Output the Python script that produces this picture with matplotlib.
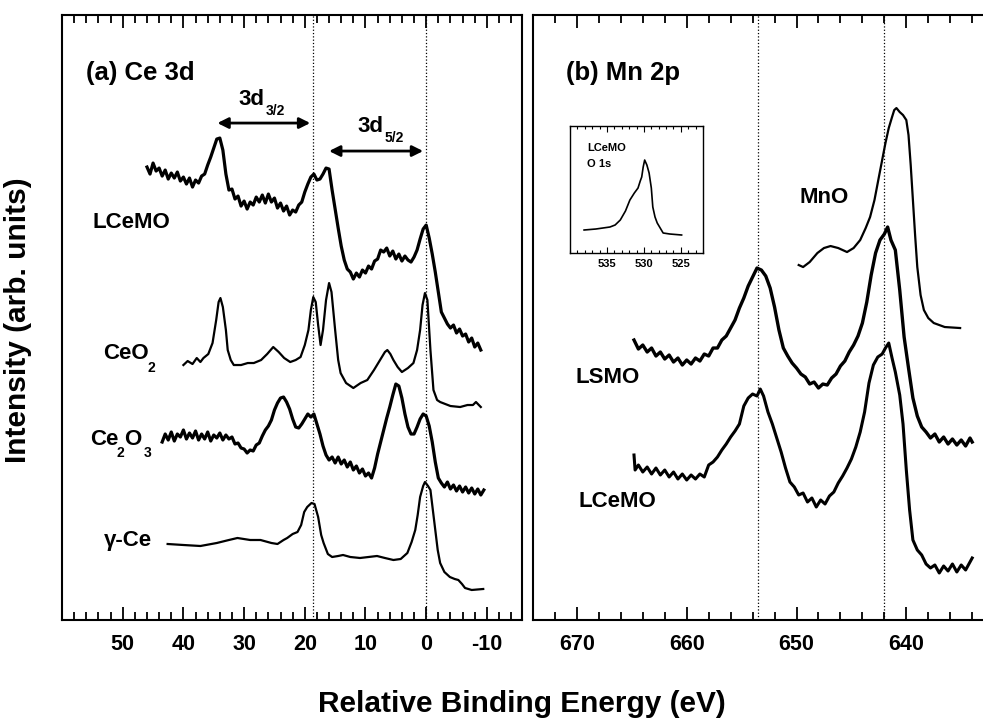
import matplotlib.pyplot as plt
from matplotlib.ticker import MultipleLocator, FixedLocator

plt.rcParams['font.family'] = ['Liberation Sans', 'DejaVu Sans']
plt.rcParams['font.weight'] = 'bold'
plt.rcParams['axes.unicode_minus'] = False

# ---- panel (a) Ce 3d : relative binding energy (eV) / intensity (arb. units)
lcemo_ce_e = [46.0, 45.5, 45.0, 44.5, 44.0, 43.5, 43.0, 42.5, 42.0, 41.5, 41.0, 40.5, 40.0, 39.5,
              39.0, 38.5, 38.0, 37.5, 37.0, 36.5, 36.0, 35.5, 35.0, 34.5, 34.0, 33.5, 33.0, 32.5,
              32.0, 31.5, 31.0, 30.5, 30.0, 29.5, 29.0, 28.5, 28.0, 27.5, 27.0, 26.5, 26.0, 25.5,
              25.0, 24.5, 24.0, 23.5, 23.0, 22.5, 22.0, 21.5, 21.0, 20.5, 20.0, 19.5, 19.0, 18.5,
              18.0, 17.5, 17.0, 16.5, 16.0, 15.5, 15.0, 14.5, 14.0, 13.5, 13.0, 12.5, 12.0, 11.5,
              11.0, 10.5, 10.0, 9.5, 9.0, 8.5, 8.0, 7.5, 7.0, 6.5, 6.0, 5.5, 5.0, 4.5, 4.0, 3.5,
              3.0, 2.5, 2.0, 1.5, 1.0, 0.5, 0.0, -0.5, -1.0, -1.5, -2.0, -2.5, -3.0, -3.5, -4.0,
              -4.5, -5.0, -5.5, -6.0, -6.5, -7.0, -7.5, -8.0, -8.5, -9.0]
lcemo_ce_i = [453, 446, 457, 449, 452, 444, 450, 441, 447, 442, 448, 439, 443, 436,
              442, 433, 440, 437, 444, 446, 455, 463, 472, 481, 482, 470, 446, 430,
              431, 421, 424, 414, 419, 411, 418, 415, 423, 418, 425, 417, 426, 418,
              422, 412, 417, 409, 414, 405, 410, 408, 415, 418, 428, 436, 443, 446,
              440, 441, 446, 452, 451, 430, 411, 392, 374, 360, 351, 348, 341, 347,
              343, 350, 347, 354, 351, 359, 361, 370, 368, 372, 364, 369, 361, 366, 359, 364,
              360, 358, 363, 370, 381, 391, 395, 382, 366, 348, 328, 308, 302, 296, 292,
              295, 287, 291, 284, 286, 278, 282, 273, 277, 270]

ceo2_e = [40.0, 39.3, 38.5, 37.8, 37.2, 36.7, 35.9, 35.2, 34.6, 34.2, 33.9, 33.5, 33.0, 32.7,
          32.2, 31.7, 30.5, 29.4, 28.4, 27.2, 26.2, 25.2, 24.3, 23.4, 22.4, 21.5, 20.7, 20.0,
          19.4, 19.0, 18.6, 18.2, 17.8, 17.4, 17.0, 16.5, 16.0, 15.6, 15.0, 14.5, 14.1, 13.2,
          12.0, 10.8, 9.7, 8.6, 7.6, 6.8, 6.4, 5.9, 5.4, 4.7, 4.0, 3.0, 2.1, 1.5, 1.0, 0.6,
          0.2, -0.2, -0.7, -1.2, -1.8, -2.3, -4.0, -5.6, -6.8, -7.7, -8.2, -9.0]
ceo2_i = [255, 259, 256, 262, 258, 262, 266, 277, 300, 318, 322, 313, 290, 270,
          260, 255, 255, 257, 257, 260, 266, 273, 268, 262, 258, 260, 263, 275,
          290, 310, 323, 318, 295, 275, 290, 320, 337, 328, 290, 260, 247, 237,
          232, 237, 240, 250, 260, 268, 270, 266, 260, 253, 248, 252, 257, 270, 290, 315,
          327, 320, 270, 230, 220, 218, 214, 213, 215, 215, 218, 213]

ce2o3_e = [43.5, 43.0, 42.5, 42.0, 41.5, 41.0, 40.5, 40.0, 39.5, 39.0, 38.5, 38.0, 37.5, 37.0,
           36.5, 36.0, 35.5, 35.0, 34.5, 34.0, 33.5, 33.0, 32.5, 32.0, 31.5, 31.0, 30.5, 30.0,
           29.5, 29.0, 28.5, 28.0, 27.5, 27.0, 26.5, 26.0, 25.5, 25.0, 24.5, 24.0, 23.5, 23.0,
           22.5, 22.0, 21.5, 21.0, 20.5, 20.0, 19.5, 19.0, 18.5, 18.0, 17.5, 17.0, 16.5, 16.0,
           15.5, 15.0, 14.5, 14.0, 13.5, 13.0, 12.5, 12.0, 11.5, 11.0, 10.5, 10.0, 9.5, 9.0,
           8.5, 8.0, 7.5, 7.0, 6.5, 6.0, 5.5, 5.0, 4.5, 4.0, 3.5, 3.0, 2.5, 2.0, 1.5, 1.0,
           0.5, 0.0, -0.5, -1.0, -1.5, -2.0, -2.5, -3.0, -3.5, -4.0, -4.5, -5.0, -5.5, -6.0,
           -6.5, -7.0, -7.5, -8.0, -8.5, -9.0, -9.5]
ce2o3_i = [178, 186, 180, 188, 179, 186, 183, 190, 181, 187, 182, 189, 180, 186,
           181, 188, 179, 185, 182, 187, 180, 185, 181, 183, 176, 177, 172, 171,
           167, 170, 169, 175, 177, 184, 190, 194, 200, 210, 217, 222, 223, 218,
           211, 201, 193, 192, 196, 201, 206, 203, 206, 196, 186, 174, 165, 160,
           163, 157, 163, 156, 160, 153, 158, 150, 154, 147, 151, 144, 147, 142,
           152, 166, 178, 190, 202, 213, 225, 236, 234, 222, 206, 193, 186, 186, 193, 201,
           206, 204, 194, 178, 158, 142, 137, 133, 138, 131, 135, 129, 134, 128,
           133, 127, 132, 126, 131, 125, 130]

gce_e = [42.6, 40.0, 37.2, 34.5, 32.5, 31.1, 29.0, 27.3, 25.5, 24.5, 23.5, 22.9, 22.0, 21.2,
         20.6, 20.1, 19.6, 18.9, 18.4, 17.8, 17.3, 16.9, 16.2, 15.5, 14.5, 13.7, 12.5, 10.9,
         9.5, 8.1, 6.8, 5.4, 4.2, 3.1, 2.4, 1.8, 1.4, 1.0, 0.5, 0.2, -0.3, -0.7, -1.1, -1.5,
         -1.9, -2.3, -3.0, -3.9, -4.7, -5.3, -5.9, -6.4, -7.5, -9.4]
gce_i = [76, 75, 74, 77, 80, 82, 80, 80, 77, 76, 80, 82, 86, 88,
         95, 108, 113, 117, 116, 103, 85, 77, 66, 63, 64, 65, 63, 62,
         63, 64, 62, 60, 61, 67, 78, 90, 105, 123, 134, 138, 134, 130, 110, 90,
         70, 57, 48, 43, 41, 40, 36, 32, 30, 31]

# ---- panel (b) Mn 2p : binding energy (eV) / intensity (arb. units)
mno_e = [649.8, 649.4, 648.8, 648.1, 647.5, 646.9, 646.2, 645.4, 644.8, 644.2, 643.7, 643.3,
         642.9, 642.5, 642.2, 641.9, 641.6, 641.3, 641.1, 640.9, 640.6, 640.3, 640.0, 639.8,
         639.6, 639.4, 639.2, 639.0, 638.7, 638.4, 638.0, 637.5, 636.5, 635.1]
mno_i = [355, 353, 358, 367, 372, 374, 372, 368, 372, 380, 392, 403,
         420, 443, 460, 477, 492, 503, 510, 512, 508, 505, 500, 485,
         455, 420, 385, 353, 325, 310, 302, 297, 293, 292]

lsmo_e = [664.8, 664.4, 664.0, 663.6, 663.2, 662.8, 662.4, 662.0, 661.6, 661.2, 660.8, 660.4,
          660.0, 659.6, 659.2, 658.8, 658.4, 658.0, 657.6, 657.2, 656.8, 656.4, 656.0, 655.6,
          655.2, 654.8, 654.4, 654.0, 653.6, 653.2, 652.8, 652.4, 652.0, 651.6, 651.2, 650.8,
          650.4, 650.0, 649.6, 649.2, 648.8, 648.4, 648.0, 647.6, 647.2, 646.8, 646.4, 646.0,
          645.6, 645.2, 644.8, 644.4, 644.0, 643.6, 643.2, 642.8, 642.4, 642.0, 641.7, 641.4,
          641.0, 640.6, 640.2, 639.8, 639.4, 639.0, 638.6, 638.2, 637.8, 637.4, 637.0, 636.6,
          636.2, 635.8, 635.4, 635.0, 634.6, 634.2, 634.0]
lsmo_i = [280, 271, 275, 268, 272, 264, 268, 261, 265, 258, 262, 255,
          260, 256, 262, 259, 266, 264, 272, 272, 280, 284, 292, 300,
          312, 322, 334, 343, 352, 350, 344, 332, 313, 290, 272, 264,
          257, 252, 246, 243, 236, 238, 232, 236, 235, 242, 246, 254,
          259, 268, 275, 284, 297, 318, 345, 367, 380, 386, 393, 380,
          370, 330, 283, 252, 222, 204, 193, 188, 182, 186, 178, 183,
          176, 181, 175, 180, 174, 182, 178]

lcemo_mn_e = [664.8, 664.7, 664.4, 664.0, 663.6, 663.2, 662.8, 662.4, 662.0, 661.6, 661.2, 660.8,
              660.4, 660.0, 659.6, 659.2, 658.8, 658.4, 658.0, 657.6, 657.2, 656.8, 656.4, 656.0,
              655.6, 655.2, 654.8, 654.4, 654.0, 653.6, 653.3, 653.0, 652.6, 652.2, 651.8, 651.4,
              651.0, 650.6, 650.2, 649.8, 649.4, 649.0, 648.6, 648.2, 647.8, 647.4, 647.0, 646.6,
              646.2, 645.8, 645.4, 645.0, 644.6, 644.2, 643.8, 643.4, 643.0, 642.6, 642.2, 641.9,
              641.6, 641.3, 641.0, 640.6, 640.3, 640.0, 639.7, 639.4, 639.0, 638.6, 638.2, 637.8,
              637.4, 637.0, 636.6, 636.2, 635.8, 635.4, 635.0, 634.6, 634.2, 634.0]
lcemo_mn_i = [165, 150, 155, 148, 153, 146, 152, 145, 150, 143, 148, 141,
              146, 140, 145, 141, 146, 143, 155, 158, 163, 170, 176, 183,
              189, 196, 214, 222, 226, 224, 231, 224, 208, 196, 182, 168,
              152, 138, 133, 125, 127, 118, 122, 113, 120, 116, 124, 128,
              137, 144, 152, 161, 173, 188, 208, 237, 255, 263, 266, 272,
              277, 262, 248, 225, 196, 150, 110, 80, 70, 65, 56, 52,
              55, 47, 54, 49, 56, 48, 55, 50, 58, 62]

# inset: LCeMO O 1s
o1s_e = [538.1, 536.5, 534.6, 533.9, 533.2, 532.5, 531.9, 531.3, 530.8, 530.5, 530.3, 530.1,
         529.9, 529.6, 529.3, 529.0, 528.8, 528.5, 528.2, 527.4, 526.5, 524.9]
o1s_i = [23, 24, 26, 28, 33, 42, 53, 60, 65, 72, 76, 86,
         93, 88, 80, 65, 46, 36, 30, 20, 19, 18]

ce_ticks = [50, 40, 30, 20, 10, 0, -10]
mn_ticks = [670, 660, 650, 640]
o1s_ticks = [535, 530, 525]
ce_refs = [18.6, 0.0]
mn_refs = [653.5, 642.0]


def style_axis(ax, major, minor, size, pad, lmaj, lmin, width):
    ax.xaxis.set_major_locator(FixedLocator(major))
    ax.xaxis.set_minor_locator(MultipleLocator(minor))
    ax.tick_params(axis='x', which='both', direction='in', top=True, bottom=True,
                   width=width, labelsize=size, pad=pad)
    ax.tick_params(axis='x', which='major', length=lmaj)
    ax.tick_params(axis='x', which='minor', length=lmin)
    ax.set_yticks([])
    for s in ax.spines.values():
        s.set_linewidth(width + 0.2)


fig = plt.figure(figsize=(9.83, 7.21), dpi=100)
ax1 = fig.add_axes([0.0631, 0.1401, 0.468, 0.839])
ax2 = fig.add_axes([0.5422, 0.1401, 0.4658, 0.839])

# panel (a)
ax1.plot(lcemo_ce_e, lcemo_ce_i, color='k', lw=2.3)
ax1.plot(ceo2_e, ceo2_i, color='k', lw=1.6)
ax1.plot(ce2o3_e, ce2o3_i, color='k', lw=2.3)
ax1.plot(gce_e, gce_i, color='k', lw=1.6)
for e in ce_refs:
    ax1.axvline(e, color='k', ls=':', lw=0.9)
ax1.set_xlim(60, -15.8)
ax1.set_ylim(0, 605)
style_axis(ax1, ce_ticks, 2, 15.5, 10, 9.5, 5.5, 1.3)

ax1.text(56.1, 540, '(a) Ce 3d', fontsize=18.5, va='baseline')
ax1.text(30.9, 515, '3d', fontsize=16, va='baseline')
ax1.text(26.5, 505, '3/2', fontsize=10, va='baseline')
ax1.text(11.3, 488, '3d', fontsize=16, va='baseline')
ax1.text(6.9, 478, '5/2', fontsize=10, va='baseline')
arrow = dict(arrowstyle='<|-|>', color='k', lw=2, mutation_scale=16, shrinkA=0, shrinkB=0)
ax1.annotate('', xy=(19.1, 497), xytext=(34.4, 497), arrowprops=arrow)
ax1.annotate('', xy=(0.5, 469), xytext=(16.0, 469), arrowprops=arrow)

ax1.text(54.9, 398, 'LCeMO', fontsize=16, va='center')
ax1.text(53.3, 267, 'CeO', fontsize=16, va='center')
ax1.text(45.9, 252, '2', fontsize=10, va='center')
ax1.text(55.4, 181, 'Ce', fontsize=16, va='center')
ax1.text(51.0, 167, '2', fontsize=10, va='center')
ax1.text(49.8, 181, 'O', fontsize=16, va='center')
ax1.text(46.6, 167, '3', fontsize=10, va='center')
ax1.text(53.1, 79, 'γ-Ce', fontsize=16, va='center')

# panel (b)
ax2.plot(mno_e, mno_i, color='k', lw=1.6)
ax2.plot(lsmo_e, lsmo_i, color='k', lw=2.4)
ax2.plot(lcemo_mn_e, lcemo_mn_i, color='k', lw=2.2)
for e in mn_refs:
    ax2.axvline(e, color='k', ls=':', lw=0.9)
ax2.set_xlim(674, 632.3)
ax2.set_ylim(0, 605)
style_axis(ax2, mn_ticks, 2, 15.5, 10, 9.5, 5.5, 1.3)

ax2.text(671.0, 540, '(b) Mn 2p', fontsize=18.5, va='baseline')
ax2.text(649.7, 423, 'MnO', fontsize=16, va='center')
ax2.text(670.1, 243, 'LSMO', fontsize=16, va='center')
ax2.text(669.9, 119, 'LCeMO', fontsize=16, va='center')

# inset O 1s
ax3 = fig.add_axes([0.5799, 0.6491, 0.1353, 0.1761])
ax3.plot(o1s_e, o1s_i, color='k', lw=1.2)
ax3.set_xlim(540, 522)
ax3.set_ylim(0, 127)
style_axis(ax3, o1s_ticks, 1, 8, 4, 4, 2.5, 0.8)
ax3.text(537.7, 105, 'LCeMO', fontsize=8, va='center')
ax3.text(537.7, 89, 'O 1s', fontsize=8, va='center')

fig.text(0.531, 0.0125, 'Relative Binding Energy (eV)', fontsize=21.5, ha='center', va='baseline')
fig.text(0.0183, 0.556, 'Intensity (arb. units)', fontsize=21.5, rotation=90,
         ha='center', va='center')

fig.savefig('out.png', dpi=100)
